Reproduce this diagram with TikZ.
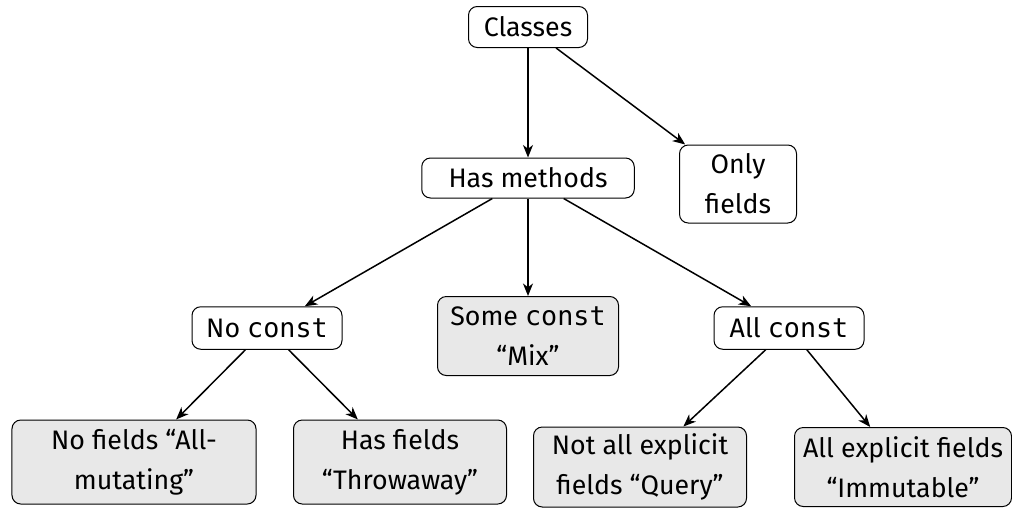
\documentclass[tikz,border=0pt]{standalone}
\usepackage{fontspec}
\setmainfont{Fira Sans}
\setmonofont{DejaVu Sans Mono}
\usetikzlibrary{arrows.meta}
\tikzset{
  box/.style={draw,rounded corners=3.5pt,align=center,inner sep=2pt,
    font=\fontsize{10.7}{16}\selectfont},
  leaf/.style={box,fill=gray!18},
  arr/.style={-{Stealth[length=5pt,width=4pt,inset=1.5pt]},semithick}
}
\begin{document}
\begin{tikzpicture}[x=0.4pt,y=-0.4pt]
    \useasboundingbox (0,0) rectangle (1012,507);
    %% root and first level
    \node[box,minimum width=47.6pt,minimum height=16.4pt] (classes) at (528,27) {Classes};
    \node[box,minimum width=85pt,minimum height=16pt] (methods) at (528,178) {Has methods};
    \node[box,minimum width=46.8pt,minimum height=31.2pt] (onlyf) at (738,184) {Only\\fields};
    %% const level
    \node[box,minimum width=60pt,minimum height=17pt] (noconst) at (267,328) {No \texttt{const}};
    \node[leaf,minimum width=72.4pt,minimum height=31.6pt] (someconst) at (528,336) {Some \texttt{const}\\``Mix''};
    \node[box,minimum width=60pt,minimum height=17pt] (allconst) at (789,328) {All \texttt{const}};
    %% leaves
    \node[leaf,minimum width=97.6pt,minimum height=33.6pt] (nofields) at (134,462) {No fields ``All-\\mutating''};
    \node[leaf,minimum width=85.2pt,minimum height=33.6pt] (hasfields) at (400,462) {Has fields\\``Throwaway''};
    \node[leaf,minimum width=85.2pt,minimum height=32pt] (query) at (640,467) {Not all explicit\\fields ``Query''};
    \node[leaf,minimum width=86.8pt,minimum height=31.6pt] (immut) at (903,467) {All explicit fields\\``Immutable''};
    %% arrows
    \draw[arr] (classes) -- (methods);
    \draw[arr] (classes) -- (onlyf);
    \draw[arr] (methods) -- (noconst);
    \draw[arr] (methods) -- (someconst);
    \draw[arr] (methods) -- (allconst);
    \draw[arr] (noconst) -- (nofields);
    \draw[arr] (noconst) -- (hasfields);
    \draw[arr] (allconst) -- (query);
    \draw[arr] (allconst) -- (immut);
\end{tikzpicture}
\end{document}
